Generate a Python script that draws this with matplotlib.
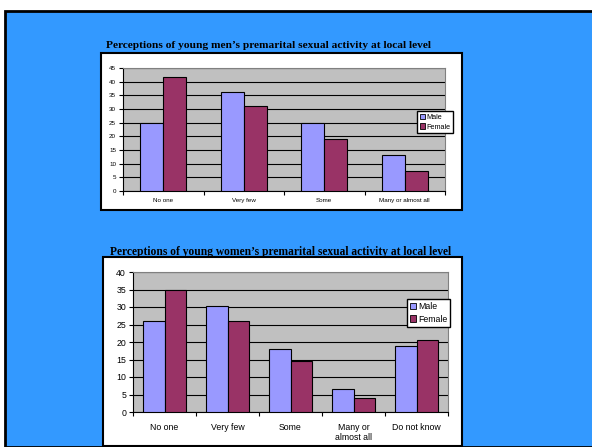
import numpy as np
import matplotlib
matplotlib.use("Agg")
import matplotlib.pyplot as plt
from matplotlib.patches import Rectangle, Patch

W, H = 592, 447

# data
men_cats = ["No one", "Very few", "Some", "Many or almost all"]
men_male = [25, 36.3, 25, 13.3]
men_female = [41.8, 31.2, 19, 7.5]

women_cats = ["No one", "Very few", "Some", "Many or\nalmost all", "Do not know"]
women_male = [26, 30.2, 18, 6.7, 19]
women_female = [35, 26, 14.5, 3.9, 20.7]

MALE = "#9999FF"
FEMALE = "#993366"
PLOT_BG = "#C0C0C0"
SLIDE = "#3399FF"


def px_rect(x0, y0, x1, y1):
    """pixel box (top-left origin) -> figure fraction [l, b, w, h]"""
    return [x0 / W, 1 - y1 / H, (x1 - x0) / W, (y1 - y0) / H]


def fx(x):
    return x / W


def fy(y):
    return 1 - y / H


def bar_chart(box, cats, male, female, ymax, group, fs, xpad, legend_box, lfs):
    ax = fig.add_axes(px_rect(*box))
    ax.set_zorder(2)
    n = len(cats)
    x = np.arange(n)
    bw = group / 2
    ax.bar(x - bw / 2, male, bw, color=MALE, edgecolor="black", linewidth=0.8, zorder=3)
    ax.bar(x + bw / 2, female, bw, color=FEMALE, edgecolor="black", linewidth=0.8, zorder=3)
    ax.set_facecolor(PLOT_BG)
    ax.set_xlim(-0.5, n - 0.5)
    ax.set_ylim(0, ymax)
    ax.set_yticks(np.arange(0, ymax + 1, 5))
    ax.yaxis.grid(True, color="black", linewidth=0.8, zorder=1)
    ax.set_axisbelow(True)
    # ticks sit on the category boundaries, labels in the middle
    ax.set_xticks(np.arange(n + 1) - 0.5)
    ax.set_xticklabels([])
    ax.set_xticks(x, minor=True)
    ax.set_xticklabels(cats, minor=True, fontsize=fs, family="Liberation Sans",
                       linespacing=1.1)
    ax.tick_params(axis="x", which="minor", length=0, pad=xpad)
    ax.tick_params(axis="x", which="major", length=3, width=0.8, direction="out")
    ax.tick_params(axis="y", length=3, width=0.8, direction="out", labelsize=fs, pad=2)
    for lbl in ax.get_yticklabels():
        lbl.set_family("Liberation Sans")
    ax.spines["left"].set_color("black")
    ax.spines["bottom"].set_color("black")
    ax.spines["top"].set_color("#808080")
    ax.spines["right"].set_color("#808080")
    handles = [Patch(facecolor=MALE, edgecolor="black", linewidth=0.6),
               Patch(facecolor=FEMALE, edgecolor="black", linewidth=0.6)]
    lx0, ly0, lx1, ly1 = legend_box
    leg = fig.legend(handles, ["Male", "Female"], loc="upper left",
                     bbox_to_anchor=(fx(lx0), fy(ly0)), fancybox=False, framealpha=1,
                     edgecolor="black", handlelength=0.7, handleheight=0.7,
                     handletextpad=0.2, borderpad=0.35, labelspacing=0.4, borderaxespad=0,
                     prop={"family": "Liberation Sans", "size": lfs})
    leg.set_zorder(5)
    return ax


fig = plt.figure(figsize=(W / 100, H / 100), dpi=100)
fig.patch.set_facecolor("white")

# slide background and chart frames
fig.patches.append(Rectangle((fx(5), 0), 1, fy(11), transform=fig.transFigure,
                             facecolor=SLIDE, edgecolor="black", linewidth=2, zorder=0))
fig.patches.append(Rectangle((fx(101), fy(210)), fx(462) - fx(101), fy(53) - fy(210),
                             transform=fig.transFigure, facecolor="white",
                             edgecolor="black", linewidth=1.5, zorder=0.5))
fig.patches.append(Rectangle((fx(103), fy(446)), fx(462) - fx(103), fy(257) - fy(446),
                             transform=fig.transFigure, facecolor="white",
                             edgecolor="black", linewidth=1.5, zorder=0.5))

fig.text(fx(269), fy(45), "Perceptions of young men\u2019s premarital sexual activity at local level",
         ha="center", va="center", fontsize=8.2, fontweight="bold", family="Liberation Serif")
fig.text(fx(281), fy(252), "Perceptions of young women\u2019s premarital sexual activity at local level",
         ha="center", va="center", fontsize=8.3, fontweight="bold", family="Liberation Serif")

bar_chart((123, 68, 445, 191), men_cats, men_male, men_female, 45, 0.571, 4.5, 5,
          (417, 111, 455, 133), 5.2)
bar_chart((133, 272, 448, 412), women_cats, women_male, women_female, 40, 0.667, 6.3, 8,
          (407, 299, 451, 328), 6.3)

fig.savefig("out.png", dpi=100)
